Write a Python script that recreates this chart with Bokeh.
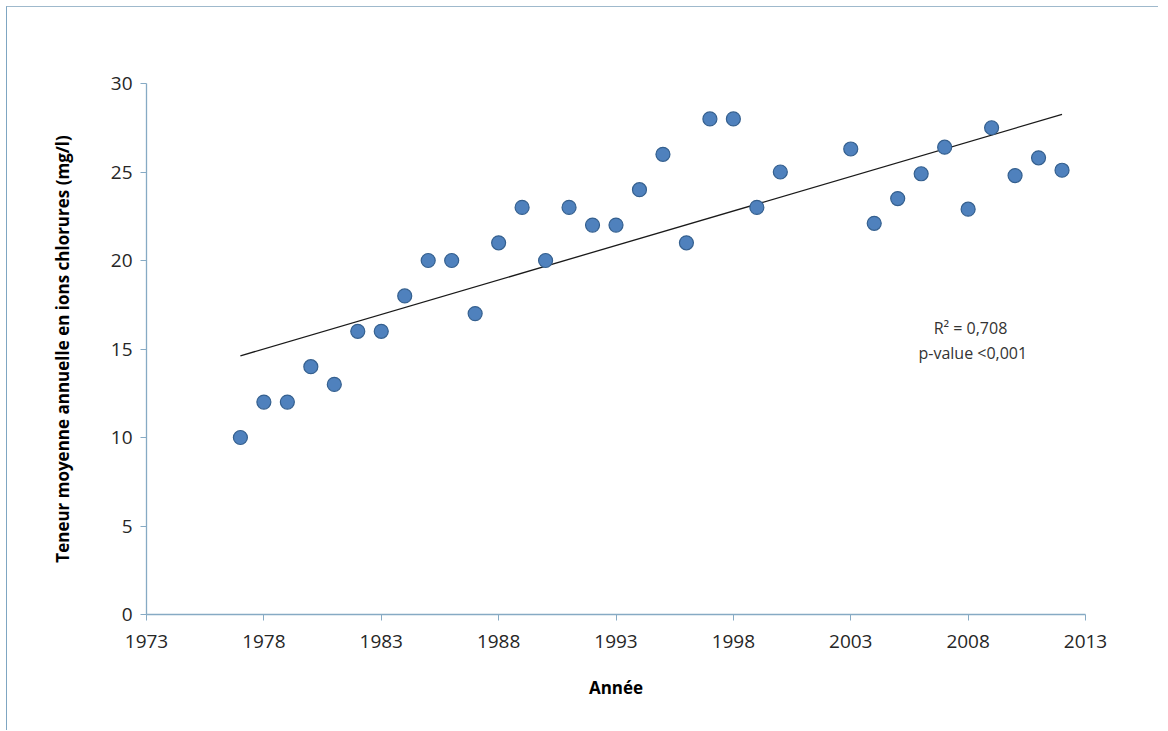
import numpy as np
from bokeh.plotting import figure
from bokeh.models import FixedTicker, Range1d, Label, ColumnDataSource
from bokeh.embed import file_html
from bokeh.resources import INLINE

years = [1977, 1978, 1979, 1980, 1981, 1982, 1983, 1984, 1985, 1986, 1987, 1988,
         1989, 1990, 1991, 1992, 1993, 1994, 1995, 1996, 1997, 1998, 1999, 2000,
         2003, 2004, 2005, 2006, 2007, 2008, 2009, 2010, 2011, 2012]
chlorures = [10, 12, 12, 14, 13, 16, 16, 18, 20, 20, 17, 21,
             23, 20, 23, 22, 22, 24, 26, 21, 28, 28, 23, 25,
             26.3, 22.1, 23.5, 24.9, 26.4, 22.9, 27.5, 24.8, 25.8, 25.1]
x_ticks = [1973, 1978, 1983, 1988, 1993, 1998, 2003, 2008, 2013]
y_ticks = [0, 5, 10, 15, 20, 25, 30]
stats_text = ["R\u00b2 = 0,708", "p-value <0,001"]

FONT = "Open Sans"
AXIS_COL = "#86aac4"

p = figure(width=1152, height=724, output_backend="svg", toolbar_location=None,
           x_range=Range1d(1973, 2013), y_range=Range1d(0, 30),
           min_border_left=139, min_border_right=74, min_border_top=76,
           min_border_bottom=117)
p.styles = {"border-left": "1px solid #7fa6c2", "border-top": "1px solid #9fb9cc",
            "margin-left": "6px", "margin-top": "6px"}
p.outline_line_color = None
p.grid.visible = False
p.background_fill_color = "white"
p.border_fill_color = "white"

for ax in (p.xaxis[0], p.yaxis[0]):
    ax.axis_line_color = AXIS_COL
    ax.axis_line_width = 1.3
    ax.major_tick_line_color = AXIS_COL
    ax.major_tick_out = 6
    ax.major_tick_in = 0
    ax.minor_tick_line_color = None
    ax.major_label_text_font = FONT
    ax.major_label_text_font_size = "19px"
    ax.major_label_text_color = "#262626"
    ax.axis_label_text_font = FONT
    ax.axis_label_text_font_style = "bold"
    ax.axis_label_text_font_size = "17px"
    ax.axis_label_text_color = "#000000"

p.xaxis.ticker = FixedTicker(ticks=x_ticks)
p.yaxis.ticker = FixedTicker(ticks=y_ticks)
p.xaxis.axis_label = "Ann\u00e9e"
p.yaxis.axis_label = "Teneur moyenne annuelle en ions chlorures (mg/l)"
p.xaxis.major_label_standoff = 14
p.yaxis.major_label_standoff = 8
p.xaxis.axis_label_standoff = 25
p.yaxis.axis_label_standoff = 34

# linear trend
coef = np.polyfit(years, chlorures, 1)
tx = [min(years), max(years)]
ty = [coef[0] * v + coef[1] for v in tx]
p.line(tx, ty, line_color="#1a1a1a", line_width=1.3)

src = ColumnDataSource(dict(x=years, y=chlorures))
p.scatter("x", "y", source=src, size=14, fill_color="#4f81bd",
          line_color="#35608f", line_width=1.2)

p.add_layout(Label(x=2008.1, y=16.2, text=stats_text[0], text_font=FONT,
                   text_font_size="16px", text_color="#333333",
                   text_align="center", text_baseline="middle"))
p.add_layout(Label(x=2008.2, y=14.8, text=stats_text[1], text_font=FONT,
                   text_font_size="16px", text_color="#333333",
                   text_align="center", text_baseline="middle"))

open("out.html", "w").write(file_html(p, INLINE))
